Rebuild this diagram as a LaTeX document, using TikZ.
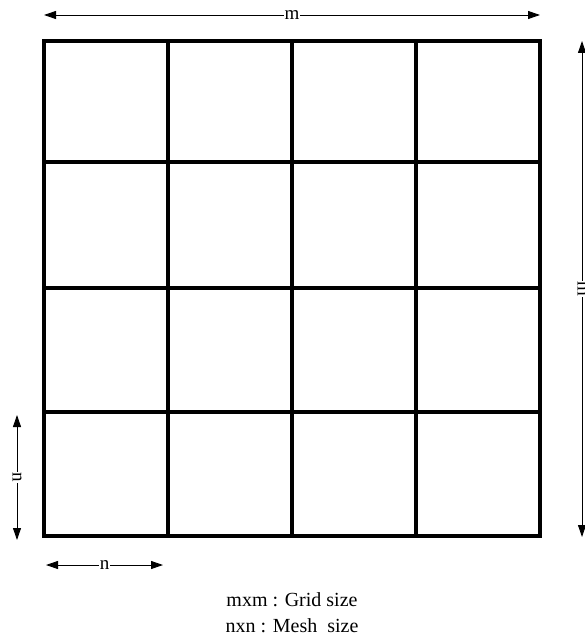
\documentclass[tikz,border=0pt]{standalone}
\usepackage{fontspec}
\setmainfont{Liberation Serif}
\usetikzlibrary{arrows.meta}
\begin{document}
\begin{tikzpicture}[x=1pt,y=-1pt,
  gridline/.style={line width=3.2pt,line cap=rect},
  dimline/.style={line width=0.9pt,{Triangle[length=12pt,width=8pt]}-{Triangle[length=12pt,width=8pt]}},
  dimlabel/.style={fill=white,inner sep=1pt,font=\fontsize{19}{20}\selectfont},
  caption/.style={align=center,font=\fontsize{20}{26}\selectfont,inner sep=0pt}]
\useasboundingbox (0,0) rectangle (584,639);
% grid
\foreach \i in {0,1,2,3,4} {
  \draw[gridline] ({44+124*\i},41) -- ({44+124*\i},536);
}
\foreach \y in {41,162,288,412,536} {
  \draw[gridline] (44,\y) -- (540,\y);
}
% dimension arrows
\coordinate (t1) at (44,15);
\coordinate (t2) at (540,15);
\draw[dimline] (t1) -- node[dimlabel] (mtop) {m} (t2);
\coordinate (r1) at (582,41);
\coordinate (r2) at (582,537);
\draw[dimline] (r1) -- node[dimlabel,rotate=-90] (mright) {m} (r2);
\coordinate (l1) at (17,415);
\coordinate (l2) at (17,540);
\draw[dimline] (l1) -- node[dimlabel,rotate=-90] (nleft) {n} (l2);
\coordinate (b1) at (46,565);
\coordinate (b2) at (163,565);
\draw[dimline] (b1) -- node[dimlabel] (nbot) {n} (b2);
% caption
\node[caption,anchor=base] (cap) at (292,632) {mxm : Grid size\\nxn : Mesh\ \ size};
\end{tikzpicture}
\end{document}
